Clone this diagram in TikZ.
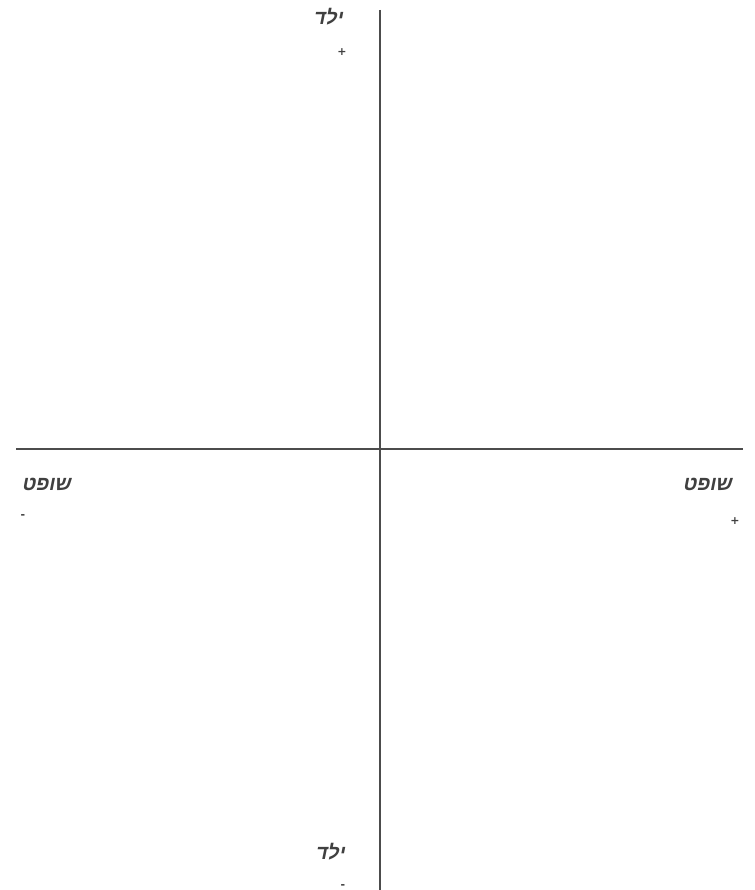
\documentclass[tikz,border=0pt]{standalone}
\usepackage{fontspec}
\TeXXeTstate=1
\newfontfamily\hebfont[Script=Hebrew,FakeSlant=0.2]{Liberation Sans Bold}
\newfontfamily\sgnfont{DejaVu Sans Bold}
\begin{document}
\begin{tikzpicture}[x=1pt,y=-1pt,
  axis/.style={draw=black!70,line width=1.3pt},
  lbl/.style={font=\hebfont\fontsize{20}{20}\selectfont,text=black!75,inner sep=0pt},
  sgn/.style={font=\sgnfont\fontsize{11}{11}\selectfont,text=black!75,inner sep=0pt}]
\useasboundingbox (0,0) rectangle (754,890);
\coordinate (vt) at (380,10);
\coordinate (vb) at (380,890);
\coordinate (hl) at (16,449);
\coordinate (hr) at (743,449);
\draw[axis] (vt) -- (vb);
\draw[axis] (hl) -- (hr);
\node[lbl] (top) at (328,17) {\beginR ילד\endR};
\node[sgn] (topp) at (342,52) {+};
\node[lbl] (left) at (46,484) {\beginR שופט\endR};
\node[sgn] (leftm) at (23,517) {-};
\node[lbl] (right) at (707,484) {\beginR שופט\endR};
\node[sgn] (rightp) at (735,521) {+};
\node[lbl] (bot) at (330,852) {\beginR ילד\endR};
\node[sgn] (botm) at (343,887) {-};
\end{tikzpicture}
\end{document}
